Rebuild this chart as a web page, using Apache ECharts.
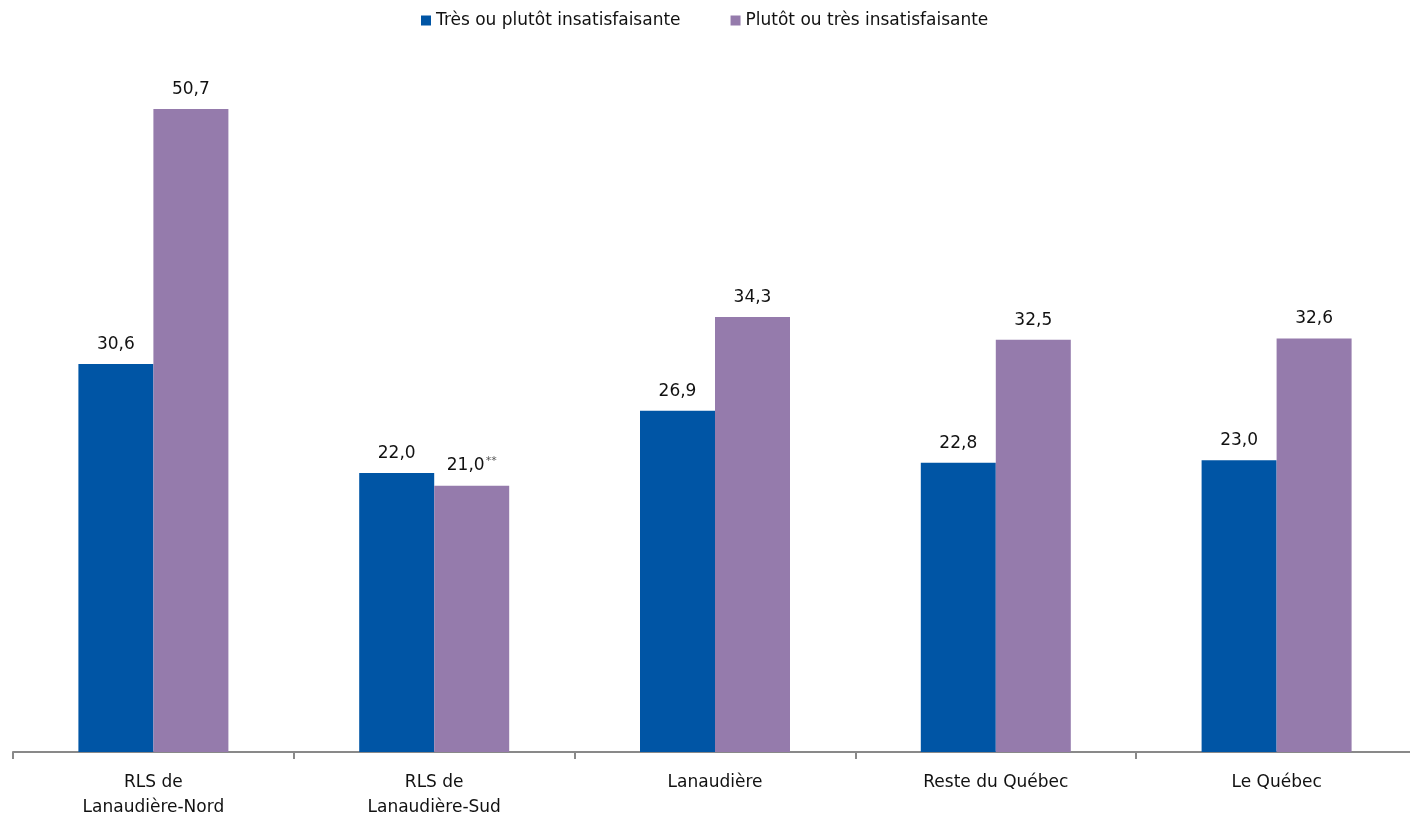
<!DOCTYPE html>
<html>
<head>
<meta charset="utf-8">
<script src="https://cdn.jsdelivr.net/npm/echarts@6/dist/echarts.min.js"></script>
<style>html,body{margin:0;padding:0;background:#fff;overflow:hidden}#c{width:1420px;height:816px}</style>
</head>
<body>
<div id="c"></div>
<script>
const categories = ['RLS de\nLanaudière-Nord', 'RLS de\nLanaudière-Sud', 'Lanaudière', 'Reste du Québec', 'Le Québec'];
const seriesNames = ['Très ou plutôt insatisfaisante', 'Plutôt ou très insatisfaisante'];
const valuesA = [30.6, 22.0, 26.9, 22.8, 23.0];
const valuesB = [50.7, 21.0, 34.3, 32.5, 32.6];
const flagsB = ['', '**', '', '', ''];

const chart = echarts.init(document.getElementById('c'));
const font = '"DejaVu Sans", sans-serif';
function fmt(v){ return v.toFixed(1).replace('.', ','); }
chart.setOption({
  animation: false,
  textStyle: { fontFamily: font },
  legend: {
    top: 7, left: 705, itemWidth: 10, itemHeight: 10, itemGap: 50,
    icon: 'rect',
    textStyle: { fontSize: 17, color: '#111', fontFamily: font },
    data: seriesNames
  },
  grid: { left: 13, right: 3, top: 54.5, bottom: 64, containLabel: false, outerBoundsMode: 'none' },
  xAxis: {
    type: 'category', data: categories,
    axisLine: { lineStyle: { color: '#898989', width: 2 } },
    axisTick: { show: true, length: 7, lineStyle: { color: '#898989', width: 2 } },
    axisLabel: { fontSize: 17, color: '#111', lineHeight: 25, margin: 18, interval: 0, fontFamily: font }
  },
  yAxis: { type: 'value', min: 0, max: 55, show: false, splitLine: { show: false } },
  series: [
    {
      name: seriesNames[0], type: 'bar', data: valuesA, barWidth: 75, barGap: '0%',
      itemStyle: { color: '#0055A5' },
      label: { show: true, position: 'top', distance: 11, fontSize: 17, color: '#111', fontFamily: font,
        formatter: p => fmt(p.value) }
    },
    {
      name: seriesNames[1], type: 'bar', data: valuesB, barWidth: 75,
      itemStyle: { color: '#957BAC' },
      label: { show: true, position: 'top', distance: 11, fontSize: 17, color: '#111', fontFamily: font,
        formatter: p => fmt(p.value) + (flagsB[p.dataIndex] ? '{s|' + flagsB[p.dataIndex] + '}' : ''),
        rich: { s: { fontSize: 11, color: '#555', verticalAlign: 'top', padding: [0, 0, 8, 1] } } }
    }
  ]
});
// center legend relative to the visible 1410px window
const lg = chart.getModel().getComponent('legend');
const view = chart.getViewOfComponentModel(lg);
if (view && view.group) {
  const r = view.group.getBoundingRect();
  chart.setOption({ legend: { left: Math.round((1410 - r.width) / 2) } });
}
</script>
</body>
</html>
